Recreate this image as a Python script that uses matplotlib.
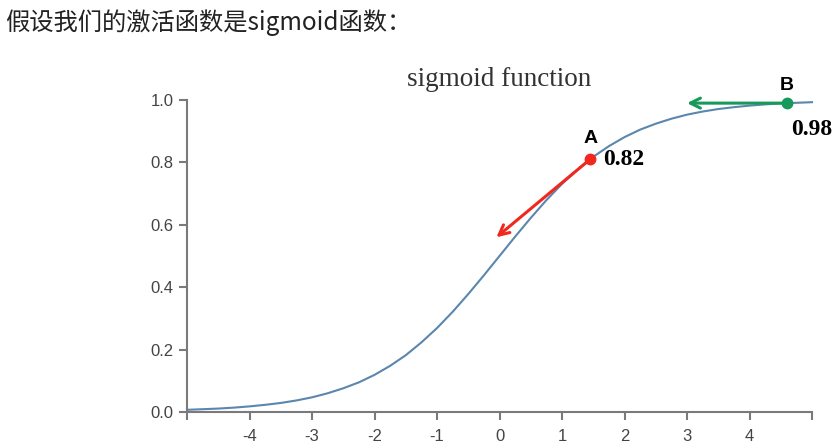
import matplotlib.pyplot as plt

# datos (curva sigmoide cada 0.25)
curva_x = [-5, -4.75, -4.5, -4.25, -4, -3.75, -3.5, -3.25, -3, -2.75, -2.5,
           -2.25, -2, -1.75, -1.5, -1.25, -1, -0.75, -0.5, -0.25, 0,
           0.25, 0.5, 0.75, 1, 1.25, 1.5, 1.75, 2, 2.25, 2.5,
           2.75, 3, 3.25, 3.5, 3.75, 4, 4.25, 4.5, 4.75, 5]
curva_y = [0.007, 0.009, 0.011, 0.014, 0.018, 0.023, 0.029, 0.037, 0.047, 0.06, 0.076,
           0.095, 0.119, 0.148, 0.182, 0.223, 0.269, 0.321, 0.378, 0.438, 0.5,
           0.562, 0.622, 0.679, 0.731, 0.777, 0.818, 0.852, 0.881, 0.905, 0.924,
           0.94, 0.953, 0.963, 0.971, 0.977, 0.982, 0.986, 0.989, 0.991, 0.993]
x_lim = [-5, 5]
x_ticks = [-4, -3, -2, -1, 0, 1, 2, 3, 4]
y_ticks = [0.0, 0.2, 0.4, 0.6, 0.8, 1.0]
punto_a = (1.45, 0.81)
punto_b = (4.6, 0.99)
flecha_a = (-1.5, -0.25)
flecha_b = (-1.6, 0.0)
etiqueta_a = "0.82"
etiqueta_b = "0.98"

fig = plt.figure(figsize=(8.33, 4.46), dpi=100)
fig.text(0.006, 0.95, "假设我们的激活函数是sigmoid函数：", fontsize=17.5,
         family=['Noto Sans CJK SC', 'DejaVu Sans'], color='#222222', va='center')

ax = fig.add_axes([187 / 833, 1 - 412 / 446, 625 / 833, 312 / 446])
ax.plot(curva_x, curva_y, color='#5b86ad', linewidth=1.5, clip_on=False,
        solid_joinstyle='round')

# flechas
ax.annotate("", xy=(punto_a[0] + flecha_a[0], punto_a[1] + flecha_a[1]), xytext=punto_a,
            arrowprops=dict(arrowstyle='->', color='#f0281e', lw=2.2, mutation_scale=18,
                            shrinkA=0, shrinkB=0))
ax.annotate("", xy=(punto_b[0] + flecha_b[0], punto_b[1] + flecha_b[1]), xytext=punto_b,
            arrowprops=dict(arrowstyle='->', color='#16995a', lw=2.2, mutation_scale=18,
                            shrinkA=0, shrinkB=0))
ax.plot(*punto_a, 'o', color='#f0281e', markersize=7.5, clip_on=False)
ax.plot(*punto_b, 'o', color='#16995a', markersize=7.5, clip_on=False)

ax.text(punto_a[0], punto_a[1] + 0.04, "A", fontsize=14, fontweight='bold',
        family='Liberation Sans', ha='center', va='bottom')
ax.text(punto_b[0], punto_b[1] + 0.03, "B", fontsize=14, fontweight='bold',
        family='Liberation Sans', ha='center', va='bottom')
ax.text(punto_a[0] + 0.2, punto_a[1], etiqueta_a, fontsize=17, fontweight='bold',
        family='Liberation Serif', ha='left', va='center')
ax.text(punto_b[0] + 0.07, punto_b[1] - 0.085, etiqueta_b, fontsize=17, fontweight='bold',
        family='Liberation Serif', ha='left', va='center', clip_on=False)

ax.set_title("sigmoid function", fontsize=19.5, family='Liberation Serif', color='#333333', pad=10)

ax.set_xlim(x_lim)
ax.set_ylim(0, 1)
ax.set_xticks([x_lim[0]] + x_ticks + [x_lim[1]])
ax.set_xticklabels([""] + [str(t) for t in x_ticks] + [""])
ax.set_yticks(y_ticks)
ax.set_yticklabels([f"{t:.1f}" for t in y_ticks])
for s in ['top', 'right']:
    ax.spines[s].set_visible(False)
for s in ['left', 'bottom']:
    ax.spines[s].set_color('#7a7a7a')
    ax.spines[s].set_linewidth(1.5)
ax.tick_params(colors='#7a7a7a', width=1.5, length=6, labelsize=12, labelcolor='#444444')
ax.tick_params(axis='x', pad=6)
for lab in ax.get_xticklabels() + ax.get_yticklabels():
    lab.set_family('Liberation Sans')

plt.savefig("out.png", dpi=100)
